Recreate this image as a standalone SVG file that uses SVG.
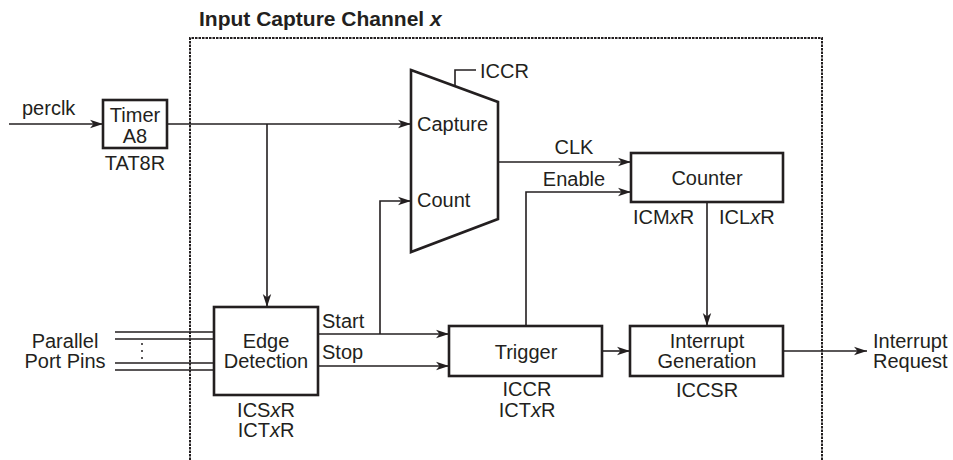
<svg xmlns="http://www.w3.org/2000/svg" width="953" height="460" viewBox="0 0 953 460">
<style>
text{font-family:"Liberation Sans",Arial,sans-serif;font-size:20px;fill:#231f20}
.t{font-weight:bold;font-size:21px}
.c{text-anchor:middle}
.i{font-style:italic}
.box{fill:#fff;stroke:#231f20;stroke-width:2.6}
.ln{fill:none;stroke:#231f20;stroke-width:1.6}
.dash{fill:none;stroke:#231f20;stroke-width:2;stroke-dasharray:2.5 1}
</style>
<defs>
<marker id="ah" markerUnits="userSpaceOnUse" markerWidth="14" markerHeight="10" refX="13" refY="5" orient="auto">
<path d="M0,0.8 L13,5 L0,9.2 L3.5,5 z" fill="#231f20"/>
</marker>
</defs>
<rect width="953" height="460" fill="#fff"/>
<text class="t" x="199" y="26">Input Capture Channel <tspan class="i">x</tspan></text>
<path class="dash" d="M190,460 V38 H822 V460"/>
<g id="connectors">
<path class="ln" d="M9,124 H103" marker-end="url(#ah)"/>
<path class="ln" d="M167,124 H411" marker-end="url(#ah)"/>
<path class="ln" d="M267,124 V307" marker-end="url(#ah)"/>
<path class="ln" d="M115,332 H214 M115,339 H214 M115,363 H214 M115,370 H214"/>
<path class="ln" d="M318,334 H449" marker-end="url(#ah)"/>
<path class="ln" d="M318,366 H449" marker-end="url(#ah)"/>
<path class="ln" d="M380,334 V201 H411" marker-end="url(#ah)"/>
<path class="ln" d="M498,162 H631" marker-end="url(#ah)"/>
<path class="ln" d="M526,326 V192 H631" marker-end="url(#ah)"/>
<path class="ln" d="M707,202 V326" marker-end="url(#ah)"/>
<path class="ln" d="M602,351 H630" marker-end="url(#ah)"/>
<path class="ln" d="M783,351 H867" marker-end="url(#ah)"/>
<path class="ln" d="M455,86 V70 H476"/>
</g>
<g id="perclk"><text x="22" y="115">perclk</text></g>
<g id="timer">
<rect class="box" x="103" y="100" width="64" height="48"/>
<text class="c" x="135" y="122">Timer</text>
<text class="c" x="135" y="143">A8</text>
<text class="c" x="135" y="170">TAT8R</text>
</g>
<g id="pins">
<text class="c" x="65" y="348">Parallel</text>
<text class="c" x="65" y="368">Port Pins</text>
<circle cx="142" cy="344" r="1" fill="#231f20"/>
<circle cx="142" cy="351" r="1" fill="#231f20"/>
<circle cx="142" cy="358" r="1" fill="#231f20"/>
</g>
<g id="edge">
<rect class="box" x="214" y="307" width="104" height="88"/>
<text class="c" x="266" y="348">Edge</text>
<text class="c" x="266" y="368">Detection</text>
<text class="c" x="266" y="417">ICS<tspan class="i">x</tspan>R</text>
<text class="c" x="266" y="437">ICT<tspan class="i">x</tspan>R</text>
<text x="322" y="328">Start</text>
<text x="322" y="359">Stop</text>
</g>
<g id="mux">
<path class="box" d="M411,70 L498,102 V219 L411,252 Z"/>
<text x="417" y="131">Capture</text>
<text x="417" y="207">Count</text>
<text x="480" y="78">ICCR</text>
<text class="c" x="574" y="154">CLK</text>
<text class="c" x="574" y="186">Enable</text>
</g>
<g id="counter">
<rect class="box" x="631" y="153" width="152" height="49"/>
<text class="c" x="707" y="185">Counter</text>
<text x="633" y="224">ICM<tspan class="i">x</tspan>R</text>
<text x="719" y="224">ICL<tspan class="i">x</tspan>R</text>
</g>
<g id="trigger">
<rect class="box" x="449" y="326" width="153" height="50"/>
<text class="c" x="526" y="359">Trigger</text>
<text class="c" x="527" y="396">ICCR</text>
<text class="c" x="527" y="417">ICT<tspan class="i">x</tspan>R</text>
</g>
<g id="intgen">
<rect class="box" x="630" y="326" width="153" height="50"/>
<text class="c" x="707" y="348">Interrupt</text>
<text class="c" x="707" y="368">Generation</text>
<text class="c" x="707" y="397">ICCSR</text>
</g>
<g id="intreq">
<text x="873" y="348">Interrupt</text>
<text x="873" y="368">Request</text>
</g>
</svg>
